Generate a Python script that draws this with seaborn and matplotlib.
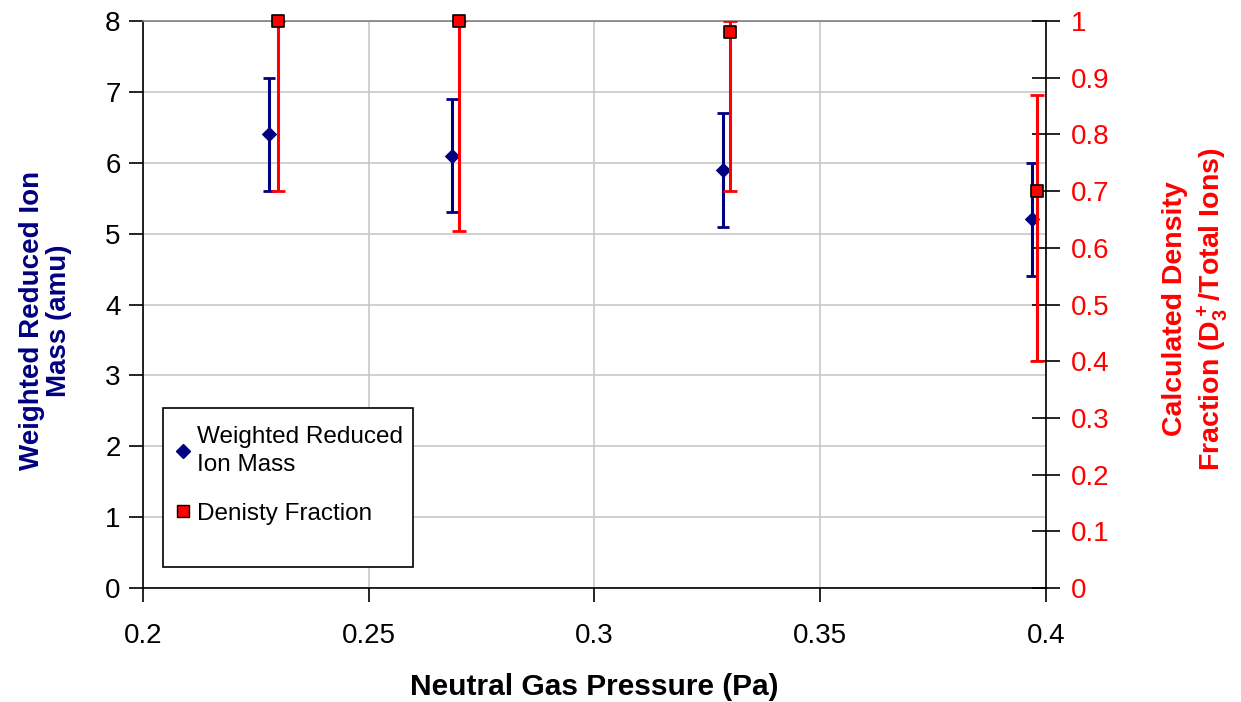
import numpy as np
import matplotlib
matplotlib.use("Agg")
import matplotlib.pyplot as plt
import seaborn as sns
from matplotlib.lines import Line2D
from matplotlib.patches import Rectangle

# datos
p_masa = [0.228, 0.2685, 0.3285, 0.397]
masa = [6.4, 6.1, 5.9, 5.2]
err_masa = [0.8, 0.8, 0.8, 0.8]

p_frac = [0.23, 0.27, 0.33, 0.398]
frac = [1.0, 1.0, 0.98, 0.70]
frac_err_abajo = [0.30, 0.37, 0.28, 0.30]
frac_err_arriba = [0.0, 0.0, 0.02, 0.17]

sns.set_style("white")
plt.rcParams['font.family'] = ['Liberation Sans', 'DejaVu Sans']
plt.rcParams['mathtext.fontset'] = 'custom'
plt.rcParams['mathtext.rm'] = 'Liberation Sans:bold'
plt.rcParams['mathtext.default'] = 'regular'

azul = "#000080"
rojo = "#FF0000"

fig = plt.figure(figsize=(12.41, 7.02), dpi=100)
ax = fig.add_axes([0.1152, 0.1624, 0.7276, 0.8076])
ax2 = ax.twinx()

# masa reducida (eje izquierdo)
ax.errorbar(p_masa, masa, yerr=err_masa, fmt='none', ecolor=azul,
            elinewidth=2.2, capsize=4, capthick=2, zorder=3)
sns.scatterplot(x=p_masa, y=masa, ax=ax, marker='D', s=62, color=azul,
                edgecolor=azul, linewidth=0, zorder=4)

# fraccion de densidad (eje derecho)
ax2.errorbar(p_frac, frac, yerr=[frac_err_abajo, frac_err_arriba], fmt='none',
             ecolor=rojo, elinewidth=2.2, capsize=5, capthick=2, zorder=3)
sns.scatterplot(x=p_frac, y=frac, ax=ax2, marker='s', s=80, color=rojo,
                edgecolor='black', linewidth=1.2, zorder=5, clip_on=False)

ax.set_xlim(0.2, 0.4)
ax.set_ylim(0, 8)
ax2.set_ylim(0, 1)
ax.set_xticks([0.2, 0.25, 0.3, 0.35, 0.4])
ax.set_xticklabels(['0.2', '0.25', '0.3', '0.35', '0.4'])
ax.set_yticks(range(0, 9))
ax2.set_yticks(np.arange(0, 11) / 10)
ax2.set_yticklabels(['0', '0.1', '0.2', '0.3', '0.4', '0.5', '0.6', '0.7', '0.8', '0.9', '1'])

ax.grid(True, color='#c8c8c8', linewidth=1.2)
ax.set_axisbelow(True)

ax.spines['top'].set_color('#808080')
ax.spines['top'].set_linewidth(1.2)
ax2.spines['top'].set_visible(False)
ax.spines['right'].set_visible(False)
ax2.spines['left'].set_visible(False)
ax2.spines['bottom'].set_visible(False)
ax.spines['left'].set_color('black')
ax.spines['bottom'].set_color('black')
ax2.spines['right'].set_color('black')
for s in ('left', 'bottom'):
    ax.spines[s].set_linewidth(1.2)
ax2.spines['right'].set_linewidth(1.2)

ax.tick_params(axis='both', direction='out', length=10, width=1.2, color='black',
               labelsize=20, labelcolor='black', left=True, bottom=True)
ax.tick_params(axis='x', pad=15)
ax.tick_params(axis='y', pad=6)
ax2.tick_params(axis='y', direction='inout', length=20, width=1.2, color='black',
                labelsize=20, labelcolor=rojo, right=True, pad=8)

fig.text(0.479, 0.022, "Neutral Gas Pressure (Pa)", ha='center', va='center',
         fontsize=21.5, fontweight='bold', color='black')
fig.text(0.037, 0.543, "Weighted Reduced Ion\nMass (amu)", rotation=90, ha='center',
         va='center', fontsize=20, fontweight='bold', color=azul, linespacing=1.05)
fig.text(0.9635, 0.56, "Calculated Density\nFraction (D$_3^+$/Total Ions)", rotation=90,
         ha='center', va='center', fontsize=20.5, fontweight='bold', color=rojo,
         linespacing=1.3)

# caja de la leyenda (al estilo Excel, con espacio vacio abajo)
caja = Rectangle((0.022, 0.037), 0.2769, 0.2804, transform=ax.transAxes,
                 facecolor='white', edgecolor='black', linewidth=1.2, zorder=9)
ax2.add_patch(caja)

handles = [
    Line2D([], [], marker='D', linestyle='none', color=azul, markersize=7),
    Line2D([], [], marker='s', linestyle='none', markerfacecolor=rojo,
           markeredgecolor='black', markersize=9),
]
leg = ax2.legend(handles, ["Weighted Reduced\nIon Mass", "Denisty Fraction"],
                 loc='upper left', bbox_to_anchor=(0.0365, 0.2857), fontsize=17.5,
                 frameon=False, handlelength=0.6, handletextpad=0.25,
                 labelspacing=1.1, borderpad=0, borderaxespad=0)
leg.set_zorder(10)
for t in leg.get_texts():
    t.set_color('black')
    t.set_linespacing(1.35)

fig.savefig("out.png", dpi=100)
